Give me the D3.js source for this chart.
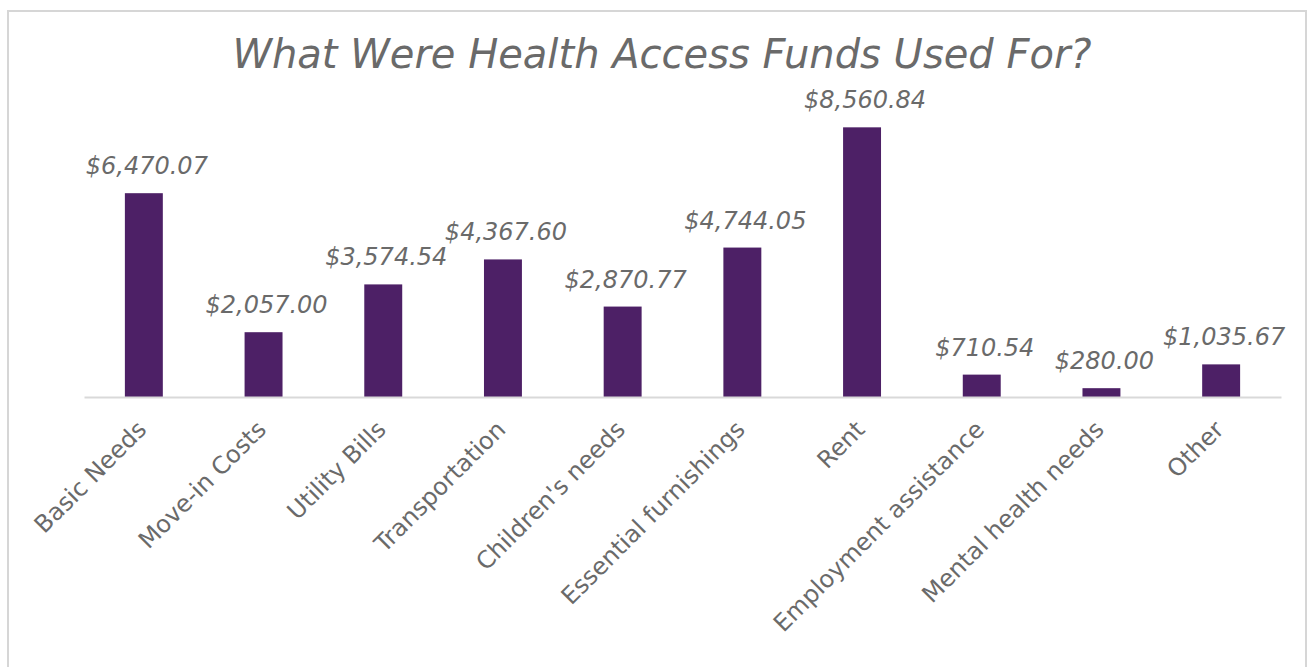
<!DOCTYPE html>
<html>
<head>
<meta charset="utf-8">
<script src="https://cdn.jsdelivr.net/npm/d3@7"></script>
<style>
  html, body { margin: 0; padding: 0; background: #fff; }
  svg { display: block; }
</style>
</head>
<body>
<svg id="fundsChart"></svg>
<script>
const categories = [
  "Basic Needs",
  "Move-in Costs",
  "Utility Bills",
  "Transportation",
  "Children's needs",
  "Essential furnishings",
  "Rent",
  "Employment assistance",
  "Mental health needs",
  "Other",
];
const amounts = [6470.07, 2057.0, 3574.54, 4367.6, 2870.77, 4744.05, 8560.84, 710.54, 280.0, 1035.67];
const yDomain = [0, 10000];

const width = 1309;
const height = 667;
const margins = { top: 82, right: 28, bottom: 270, left: 84 };
const fontFamily = "'DejaVu Sans', sans-serif";
const textColor = "#6a6a6a";
const barColor = "#4d2066";

const data = categories.map((c, i) => ({ name: c, amount: amounts[i] }));

const svg = d3.select("#fundsChart").attr("width", width).attr("height", height);

// outer frame
svg
  .append("rect")
  .attr("x", 8)
  .attr("y", 11)
  .attr("width", 1298)
  .attr("height", 700)
  .attr("fill", "none")
  .attr("stroke", "#d6d6d6")
  .attr("stroke-width", 2);

const x = d3
  .scaleBand()
  .domain(categories)
  .range([margins.left, width - margins.right])
  .paddingInner(0.683)
  .paddingOuter(0.3415);

const y = d3
  .scaleLinear()
  .domain(yDomain)
  .range([height - margins.bottom, margins.top]);

svg
  .append("text")
  .attr("x", 662)
  .attr("y", 68)
  .attr("text-anchor", "middle")
  .attr("font-family", fontFamily)
  .attr("font-style", "italic")
  .attr("font-size", "40px")
  .attr("fill", textColor)
  .text("What Were Health Access Funds Used For?");

svg
  .append("g")
  .selectAll("rect")
  .data(data)
  .join("rect")
  .attr("x", (d) => x(d.name))
  .attr("y", (d) => y(d.amount))
  .attr("width", x.bandwidth())
  .attr("height", (d) => y(0) - y(d.amount))
  .attr("fill", barColor);

svg
  .append("g")
  .selectAll("text")
  .data(data)
  .join("text")
  .attr("x", (d) => x(d.name) + x.bandwidth() / 2 + 3)
  .attr("y", (d) => y(d.amount) - 19)
  .attr("text-anchor", "middle")
  .attr("font-family", fontFamily)
  .attr("font-style", "italic")
  .attr("font-size", "24px")
  .attr("fill", textColor)
  .text((d) => d3.format("$,.2f")(d.amount));

const axisGroup = svg
  .append("g")
  .attr("transform", `translate(0, ${y(0)})`)
  .call(d3.axisBottom(x).tickSize(0).tickSizeOuter(0));

axisGroup.select(".domain").attr("stroke", "#d9d9d9").attr("stroke-width", 2);

axisGroup
  .selectAll(".tick text")
  .attr("font-family", fontFamily)
  .attr("font-size", "24px")
  .attr("fill", textColor)
  .attr("text-anchor", "end")
  .attr("x", null)
  .attr("y", null)
  .attr("dy", null)
  .attr("transform", "translate(4, 34) rotate(-45)");
</script>
</body>
</html>
